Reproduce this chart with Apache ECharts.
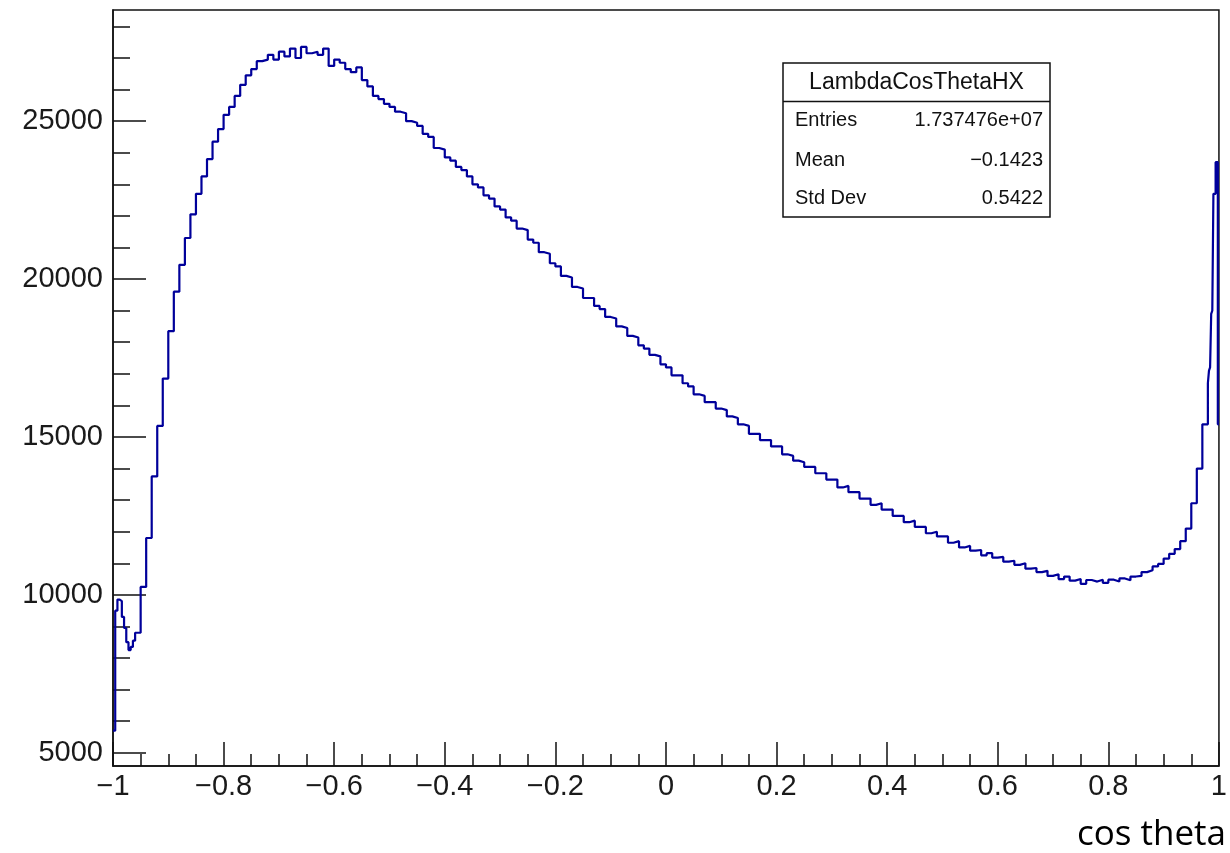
<!DOCTYPE html>
<html><head><meta charset="utf-8">
<script src="https://cdn.jsdelivr.net/npm/echarts@6/dist/echarts.min.js"></script>
<style>html,body{margin:0;padding:0;background:#fff}#c{width:1230px;height:853px}</style>
</head><body><div id="c"></div>
<script>
// ---- data ----
const leftStart = -1, leftWidth = 0.004;
const leftCounts = [5700, 9500, 9850, 9800, 9300, 8950, 8500, 8250, 8350, 8550];

const midStart = -0.96, midWidth = 0.01;
const midCounts = [
  8800,10250,11800,13750,15350,16850,18350,19600,20450,21300,
  22050,22700,23250,23800,24350,24750,25200,25450,25800,26150,
  26450,26650,26900,26950,27100,26950,27200,27050,27300,27000,
  27350,27150,27200,27100,27300,26750,26950,26850,26650,26550,
  26700,26300,26100,25800,25700,25550,25450,25300,25250,25000,
  24950,24850,24600,24500,24150,24100,23850,23750,23550,23450,
  23250,23000,22900,22650,22550,22300,22200,21950,21850,21600,
  21550,21250,21150,20850,20800,20500,20400,20100,20050,19750,
  19700,19400,19400,19150,19050,18800,18750,18500,18450,18200,
  18150,17900,17800,17600,17550,17300,17200,16950,16950,16700,
  16600,16350,16300,16100,16100,15900,15850,15650,15600,15400,
  15350,15100,15100,14900,14900,14700,14700,14450,14400,14250,
  14200,14050,14050,13850,13850,13650,13650,13400,13450,13250,
  13250,13050,13050,12850,12900,12700,12700,12500,12500,12300,
  12350,12150,12150,11950,12000,11850,11850,11650,11700,11500,
  11550,11400,11420,11250,11320,11180,11200,11050,11080,10950,
  11000,10830,10850,10720,10760,10600,10650,10500,10580,10450,
  10500,10350,10470,10420,10480,10380,10480,10420,10520,10460,
  10580,10600,10720,10780,10900,10980,11150,11300,11450,11700,
  12100,12900,14000,15400
];

const rightStart = 0.98, rightWidth = 0.002;
const rightCounts = [16700, 17100, 17200, 18900, 19000, 22700, 22700, 23700, 23700, 15400];

const xTickValues = [-1, -0.8, -0.6, -0.4, -0.2, 0, 0.2, 0.4, 0.6, 0.8, 1];
const xTickLabels = ['\u22121', '\u22120.8', '\u22120.6', '\u22120.4', '\u22120.2', '0', '0.2', '0.4', '0.6', '0.8', '1'];
const yTickValues = [5000, 10000, 15000, 20000, 25000];
const yTickLabels = ['5000', '10000', '15000', '20000', '25000'];
const yMinorValues = [5000,6000,7000,8000,9000,10000,11000,12000,13000,14000,15000,16000,17000,18000,19000,20000,21000,22000,23000,24000,25000,26000,27000,28000];

const statsTitle = 'LambdaCosThetaHX';
const statsNames = ['Entries', 'Mean', 'Std Dev'];
const statsValues = ['1.737476e+07', '\u22120.1423', '0.5422'];
const xTitle = 'cos theta';

// ---- build step outline ----
function r(v) { return Math.round(v * 1e6) / 1e6; }
const pts = [];
function addSection(start, width, counts) {
  counts.forEach((v, i) => {
    const lo = r(start + i * width), hi = r(start + (i + 1) * width);
    pts.push([lo, v], [hi, v]);
  });
}
addSection(leftStart, leftWidth, leftCounts);
addSection(midStart, midWidth, midCounts);
addSection(rightStart, rightWidth, rightCounts);

const FONT = '"Liberation Sans", Arial, Helvetica, sans-serif';
const chart = echarts.init(document.getElementById('c'), null, {renderer: 'canvas'});
const statRows = [];
const rowY = [120, 160, 198];
statsNames.forEach((n, i) => {
  statRows.push({type: 'text', x: 795, y: rowY[i], z: 101,
    style: {text: n, fontSize: 20, fontFamily: FONT, fill: '#111', align: 'left', textAlign: 'left', verticalAlign: 'middle', textVerticalAlign: 'middle'}});
  statRows.push({type: 'text', x: 1043, y: rowY[i], z: 101,
    style: {text: statsValues[i], fontSize: 20, fontFamily: FONT, fill: '#111', align: 'right', textAlign: 'right', verticalAlign: 'middle', textVerticalAlign: 'middle'}});
});

chart.setOption({
  animation: false,
  backgroundColor: '#fff',
  grid: {left: 113, top: 10, right: 10, bottom: 87, show: true, borderColor: '#111', borderWidth: 1.5, backgroundColor: 'transparent'},
  xAxis: {
    type: 'value', min: -1, max: 1, interval: 0.2,
    axisLine: {show: true, onZero: false, lineStyle: {color: '#111', width: 1.5}},
    axisTick: {show: true, inside: true, length: 24, lineStyle: {color: '#111', width: 1.5}},
    minorTick: {show: true, splitNumber: 4, length: 12, lineStyle: {color: '#111', width: 1.5}},
    splitLine: {show: false}, minorSplitLine: {show: false},
    axisLabel: {
      show: true, showMinLabel: true, showMaxLabel: true, margin: 6,
      fontSize: 29, fontFamily: FONT, color: '#1a1a1a',
      formatter: v => { const k = xTickValues.findIndex(t => Math.abs(t - v) < 1e-6); return k >= 0 ? xTickLabels[k] : ''; }
    }
  },
  yAxis: [{
    type: 'value', min: 4580, max: 28520, position: 'left',
    axisLine: {show: true, onZero: false, lineStyle: {color: '#111', width: 1.5}},
    axisTick: {show: true, inside: true, length: 33, customValues: yTickValues, lineStyle: {color: '#111', width: 1.5}},
    splitLine: {show: false},
    axisLabel: {
      show: true, margin: 10, fontSize: 29, fontFamily: FONT, color: '#1a1a1a',
      customValues: yTickValues,
      formatter: v => { const k = yTickValues.indexOf(Math.round(v)); return k >= 0 ? yTickLabels[k] : ''; }
    }
  }, {
    type: 'value', min: 4580, max: 28520, position: 'left', offset: 0,
    axisLine: {show: false, onZero: false},
    axisTick: {show: true, inside: true, length: 17, customValues: yMinorValues, lineStyle: {color: '#111', width: 1.5}},
    splitLine: {show: false},
    axisLabel: {show: false}
  }],
  series: [{
    type: 'line', data: pts, xAxisIndex: 0, yAxisIndex: 0,
    showSymbol: false, symbol: 'none', clip: true,
    lineStyle: {color: '#00009a', width: 2.2},
    emphasis: {disabled: true}
  }],
  graphic: [
    {type: 'rect', z: 100, shape: {x: 783, y: 63, width: 267, height: 154},
      style: {fill: '#fff', stroke: '#111', lineWidth: 1.5}},
    {type: 'line', z: 100, shape: {x1: 783, y1: 101.5, x2: 1050, y2: 101.5},
      style: {stroke: '#111', lineWidth: 1.5}},
    {type: 'text', x: 916.5, y: 83, z: 101,
      style: {text: statsTitle, fontSize: 23, fontFamily: FONT, fill: '#111', align: 'center', textAlign: 'center', verticalAlign: 'middle', textVerticalAlign: 'middle'}},
    ...statRows,
    {type: 'text', x: 1226, y: 835, z: 101,
      style: {text: xTitle, fontSize: 35, fontFamily: '"Open Sans", "Noto Sans", sans-serif', fill: '#000', align: 'right', textAlign: 'right', verticalAlign: 'middle', textVerticalAlign: 'middle'}}
  ]
});
</script>
</body></html>
